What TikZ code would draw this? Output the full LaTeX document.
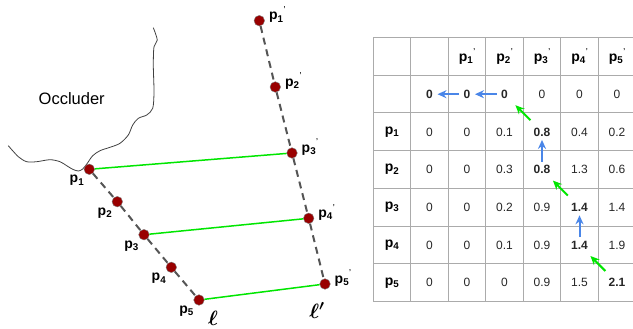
\documentclass[tikz,border=0pt]{standalone}
\usepackage{fontspec}
\setmainfont{Liberation Sans}
\usepackage{amsmath}
\usetikzlibrary{positioning,arrows.meta}

\definecolor{dotred}{HTML}{990000}
\definecolor{linegray}{HTML}{555555}
\definecolor{gridgray}{HTML}{ABABAB}
\definecolor{brightgreen}{HTML}{00E600}
\definecolor{arrowblue}{HTML}{4A86E8}

% point labels, plain and primed
\newcommand{\pl}[1]{\textbf{p\textsubscript{#1}}}
\newcommand{\pq}[1]{\textbf{p\textsubscript{#1}}\raisebox{1.15ex}{\scriptsize\textbf{'}}}

\begin{document}
\begin{tikzpicture}[x=1pt,y=-1pt,
  dot/.style={circle,fill=dotred,draw=gray,line width=.4pt,minimum size=10.6pt,inner sep=0pt},
  plabel/.style={font=\fontsize{14}{16}\selectfont,inner sep=1pt},
  axis/.style={linegray,line width=2pt,dash pattern=on 7pt off 5pt},
  match/.style={brightgreen,line width=1.5pt},
  cell/.style={font=\fontsize{12}{14}\selectfont,text=black!85,inner sep=0pt},
  tablegrid/.style={gridgray,line width=1pt},
  back/.style={arrowblue,line width=2pt,-{Stealth[length=9pt,width=8pt]},shorten <=8pt,shorten >=8pt},
  diag/.style={brightgreen,line width=2pt,-{Stealth[length=9pt,width=8pt]},shorten <=16.5pt,shorten >=15.5pt}]

\useasboundingbox (0,0) rectangle (633,329);

% occluder outline
\draw[black!75,line width=.8pt] plot[smooth] coordinates {(153.3,27.7) (157.3,40) (154,46.7) (153.3,65) (154,91.7) (152.7,108.3) (146.7,115) (138.3,118.3) (132.7,125) (128.3,135) (120,143.3) (110,147.3) (100,150.7) (92.7,155.7) (87.3,163.3) (82.7,169) (78.3,171) (72.7,169.3) (66.7,165.7) (60,161.7) (50,159.7) (36.7,161.7) (26.7,161.7) (18.3,156.7) (8.3,145.7)};
\node[font=\fontsize{16.5}{18}\selectfont] (occ) at (71.7,98.3) {Occluder};

% the two lines
\foreach \i/\x/\y in {1/89.3/169.3,2/117.3/201.7,3/144/234.7,4/171.3/267.3,5/199/300}{
\node[dot] (p\i) at (\x,\y) {};
}
\foreach \i/\x/\y in {1/259.3/20.7,2/275.3/87,3/292/153,4/308.7/218.3,5/325/284}{
\node[dot] (q\i) at (\x,\y) {};
}
\foreach \i in {1,...,5}{
\node[plabel,below left=1pt and 0pt of p\i] (lp\i) {\pl{\i}};
\node[plabel,right=3pt of q\i,yshift=6pt] (lq\i) {\pq{\i}};
}

\draw[axis] (p1) -- (p2) -- (p3) -- (p4) -- (p5);
\draw[axis] (q1) -- (q2) -- (q3) -- (q4) -- (q5);

\foreach \a/\b in {1/3, 3/4, 5/5}{
\draw[match] (p\a) -- (q\b);
}

\node[font=\fontsize{22}{24}\selectfont,anchor=base] (ell) at (213,325) {$\boldsymbol{\ell}$};
\node[font=\fontsize{22}{24}\selectfont,anchor=base] (ellq) at (317,318) {$\boldsymbol{\ell'}$};

% table
\foreach \k in {0,...,7}{
\draw[tablegrid] (373.25+37.5*\k,37.6) -- (373.25+37.5*\k,301.5);
\draw[tablegrid] (373.25,37.6+37.7*\k) -- (635.75,37.6+37.7*\k);
}
\foreach \j in {1,...,5}{
\node[plabel] (h\j) at (392+37.5*\j+37.5,56.5) {\pq{\j}};
\node[plabel] (r\j) at (392,94.2+37.7*\j) {\pl{\j}};
}
\foreach \i/\row in {0/{\textbf{0},\textbf{0},\textbf{0},0,0,0},
                     1/{0,0,0.1,\textbf{0.8},0.4,0.2},
                     2/{0,0,0.3,\textbf{0.8},1.3,0.6},
                     3/{0,0,0.2,0.9,\textbf{1.4},1.4},
                     4/{0,0,0.1,0.9,\textbf{1.4},1.9},
                     5/{0,0,0,0.9,1.5,\textbf{2.1}}}{
\foreach \v [count=\j] in \row{
\node[cell] (c\i-\j) at (392+37.5*\j,94.2+37.7*\i) {\v};
}
}

% back-tracking
\draw[back] (c0-3.center) -- (c0-2.center);
\draw[back] (c0-2.center) -- (c0-1.center);
\draw[back] (c2-4.center) -- (c1-4.center);
\draw[back] (c4-5.center) -- (c3-5.center);
\draw[diag] (c1-4.center) -- (c0-3.center);
\draw[diag] (c3-5.center) -- (c2-4.center);
\draw[diag] (c5-6.center) -- (c4-5.center);

\end{tikzpicture}
\end{document}
